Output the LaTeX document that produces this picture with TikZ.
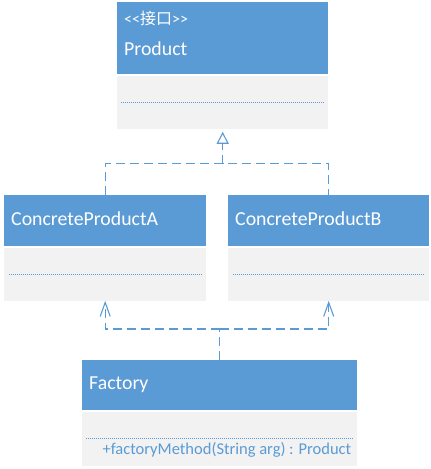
\documentclass[tikz,border=0pt]{standalone}
\usepackage{fontspec}
\setmainfont{Carlito}
\newfontfamily\cjk{Noto Sans CJK SC}
\usetikzlibrary{positioning,arrows.meta}
\definecolor{umlblue}{RGB}{91,155,213}
\definecolor{umlgray}{RGB}{242,242,242}

\begin{document}
\begin{tikzpicture}[x=1pt,y=-1pt,
    head/.style={fill=umlblue, text=white, anchor=north west, inner xsep=7pt, inner ysep=0pt,
        align=left, text height=13pt, text depth=4pt, font=\fontsize{19.8}{23}\selectfont},
    body/.style={fill=umlgray, inner sep=0pt},
    sep/.style={umlblue, line width=0.9pt, dash pattern=on 1pt off 1pt},
    dep/.style={umlblue, line width=1.1pt, dash pattern=on 9pt off 5pt},
    method/.style={text=umlblue, inner sep=0pt, font=\fontsize{16.5}{19}\selectfont}]
    \useasboundingbox (0,0) rectangle (431,469);

    % interface Product
    \node[head, minimum width=211pt, minimum height=72pt] (prodH) at (117,2) {};
    \node[text=white, anchor=base west, inner sep=0pt, font=\fontsize{16}{18}\selectfont]
        (prodStereo) at (124,24) {<{}<{\cjk 接口}>{}>};
    \node[text=white, anchor=base west, inner sep=0pt, font=\fontsize{19.8}{23}\selectfont]
        (prodName) at (124,55) {Product};
    \node[body, minimum width=211pt, minimum height=53pt, below=1pt of prodH] (prodB) {};
    \draw[sep] ([xshift=4pt]prodB.west) -- ([xshift=-4pt]prodB.east);

    % concrete products
    \node[head, text width=188pt, minimum height=51pt] (aH) at (4,195) {ConcreteProductA};
    \node[body, minimum width=202pt, minimum height=53pt, below=1pt of aH] (aB) {};
    \draw[sep] ([xshift=5pt]aB.west) -- ([xshift=-5pt]aB.east);

    \node[head, text width=187pt, minimum height=51pt] (bH) at (228,195) {ConcreteProductB};
    \node[body, minimum width=201pt, minimum height=53pt, below=1pt of bH] (bB) {};
    \draw[sep] ([xshift=5pt]bB.west) -- ([xshift=-5pt]bB.east);

    % factory
    \node[head, text width=261pt, minimum height=50pt] (factH) at (82,360) {Factory};
    \node[body, minimum width=275pt, minimum height=54pt, below=1pt of factH] (factB) {};
    \draw[sep] ([xshift=4pt]factB.west) -- ([xshift=-4pt]factB.east);
    \node[method, anchor=base east] (factM) at ([xshift=-6pt,yshift=-16pt]factB.east)
        {+factoryMethod(String arg) : Product};

    % realization
    \coordinate (realJ) at ([yshift=-35pt]prodB.south);
    \draw[dep] (aH.north) |- (realJ) -| (bH.north);
    \draw[dep, -{Triangle[open, length=12pt, width=12pt]}, shorten >=3pt] (realJ) -- (prodB.south);

    % dependency
    \coordinate (depJ) at ([yshift=31pt]factH.north);
    \draw[dep] (factH.north) -- (depJ);
    \draw[dep, -{Straight Barb[length=14pt, width=10pt]}] (depJ) -| (aB.south);
    \draw[dep, -{Straight Barb[length=14pt, width=10pt]}] (depJ) -| (bB.south);
\end{tikzpicture}
\end{document}
